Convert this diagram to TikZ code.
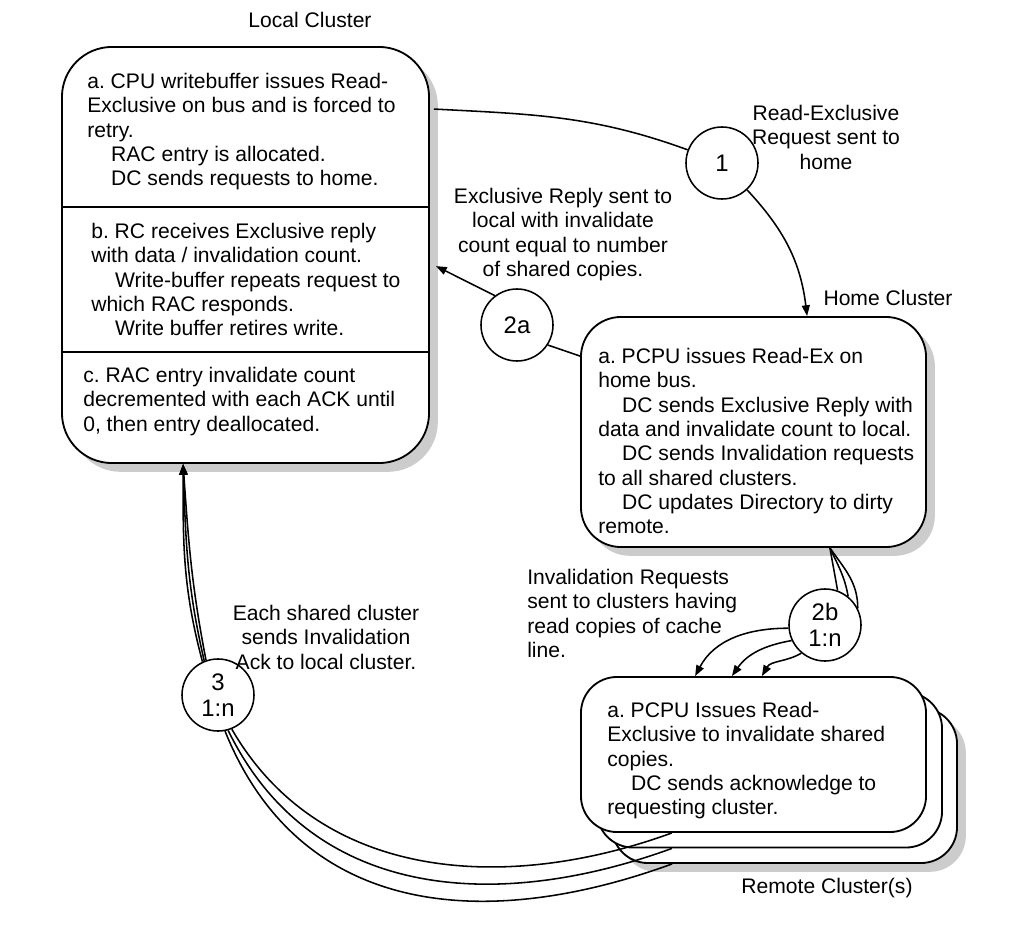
\documentclass[tikz,border=0pt]{standalone}
\usepackage{fontspec}
\setmainfont{Liberation Sans}
\usetikzlibrary{arrows.meta,shadows}
\tikzset{
  cluster/.style={draw,line width=1.3pt,fill=white,inner sep=0pt},
  shade/.style={drop shadow={shadow xshift=0.22cm,shadow yshift=-0.22cm,fill=black!20,opacity=1}},
  msg/.style={draw,circle,line width=1.1pt,fill=white,minimum size=1.8cm,inner sep=0pt,align=center,font=\fontsize{17}{18.5}\selectfont},
  note/.style={inner sep=0pt,align=left,anchor=north west},
  centrenote/.style={inner sep=0pt,align=center,anchor=north},
  link/.style={line width=1.1pt},
  arr/.style={link,-{Triangle[length=0.27cm,width=0.2cm]}}
}
\newcommand{\ind}{\hspace*{17pt}}
\begin{document}
\begin{tikzpicture}[x=0.025cm,y=-0.025cm]
\fontsize{15}{17.3}\selectfont\frenchspacing
\useasboundingbox (0,0) rectangle (1028,947);

\node[cluster,shade,rounded corners=1.25cm,minimum width=9.175cm,minimum height=10.4cm] (local) at (245.5,255) {};
\draw[line width=1.3pt] (local.west |- 0,207) -- (local.east |- 0,207);
\draw[line width=1.3pt] (local.west |- 0,352) -- (local.east |- 0,352);
\node (locallbl) at (310,20) {Local Cluster};

\node[note] (loca) at (87,73) {a. CPU writebuffer issues Read-\\Exclusive on bus and is forced to\\retry.\\\ind RAC entry is allocated.\\\ind DC sends requests to home.};
\node[note] (locb) at (91,223) {b. RC receives Exclusive reply\\with data / invalidation count.\\\ind Write-buffer repeats request to\\which RAC responds.\\\ind Write buffer retires write.};
\node[note] (locc) at (83,367) {c. RAC entry invalidate count\\decremented with each ACK until\\0, then entry deallocated.};

\node[cluster,shade,rounded corners=1cm,minimum width=8.625cm,minimum height=5.75cm] (home) at (753.5,432) {};
\node (homelbl) at (888,298) {Home Cluster};
\node[note] (homea) at (598,348) {a. PCPU issues Read-Ex on\\home bus.\\\ind DC sends Exclusive Reply with\\data and invalidate count to local.\\\ind DC sends Invalidation requests\\to all shared clusters.\\\ind DC updates Directory to dirty\\remote.};

\node[cluster,shade,rounded corners=0.9cm,minimum width=8.625cm,minimum height=3.875cm] (remote3) at (784.5,785.5) {};
\node[cluster,rounded corners=0.9cm,minimum width=8.625cm,minimum height=3.875cm] (remote2) at (769.5,770) {};
\node[cluster,rounded corners=0.9cm,minimum width=8.625cm,minimum height=3.875cm] (remote1) at (753.5,754.5) {};
\node (remotelbl) at (827,888) {Remote Cluster(s)};
\node[note] (remotea) at (607,702) {a. PCPU Issues Read-\\Exclusive to invalidate shared\\copies.\\\ind DC sends acknowledge to\\requesting cluster.};

\node[msg] (c1) at (722,163) {1};
\node[msg] (c2a) at (517,325) {2a};
\node[msg] (c2b) at (825,625) {2b\\1:n};
\node[msg] (c3) at (218,695) {3\\1:n};

\node[centrenote] (lbl1) at (826,105) {Read-Exclusive\\Request sent to\\home};
\node[centrenote] (lbl2a) at (563,188) {Exclusive Reply sent to\\local with invalidate\\count equal to number\\of shared copies.};
\node[note] (lbl2b) at (527,569) {Invalidation Requests\\sent to clusters having\\read copies of cache\\line.};
\node[centrenote] (lbl3) at (326,605) {Each shared cluster\\sends Invalidation\\Ack to local cluster.};

\draw[link] ([xshift=0.1cm,yshift=-1.575cm]local.north east) to[out=-3,in=160] (c1.159);
\draw[arr] (c1.-47) to[out=-47,in=97] ([xshift=1.34cm]home.north);

\draw[link] ([yshift=-1cm]home.north west) -- (c2a.-33);
\draw[arr] (c2a.127) -- ([xshift=0.15cm,yshift=-5.5cm]local.north east);

\draw[link] ([xshift=1.91cm]home.south) to[out=-80,in=100] (c2b.70);
\draw[link] ([xshift=1.91cm]home.south) to[out=-65,in=100] (c2b.51);
\draw[link] ([xshift=1.91cm]home.south) to[out=-55,in=90] (c2b.27);
\draw[arr] (c2b.185) to[out=180,in=62] ([xshift=-1.46cm]remote1.north);
\draw[arr] (c2b.205) to[out=190,in=55] ([xshift=-0.54cm]remote1.north);
\draw[arr] (c2b.230) to[out=210,in=60] ([xshift=0.21cm]remote1.north);

\draw[arr] (c3.115) to[out=105,in=-90] ([xshift=-1.56cm]local.south);
\draw[arr] (c3.112) to[out=103,in=-88] ([xshift=-1.56cm]local.south);
\draw[arr] (c3.109) to[out=101,in=-86] ([xshift=-1.56cm]local.south);
\draw[link] (c3.-68) to[out=-60,in=200] ([xshift=-2.04cm]remote1.south);
\draw[link] (c3.-74) to[out=-64,in=200,looseness=1.05] ([xshift=-2.44cm]remote2.south);
\draw[link] (c3.-79) to[out=-68,in=200,looseness=1.1] ([xshift=-2.81cm]remote3.south);
\end{tikzpicture}
\end{document}
